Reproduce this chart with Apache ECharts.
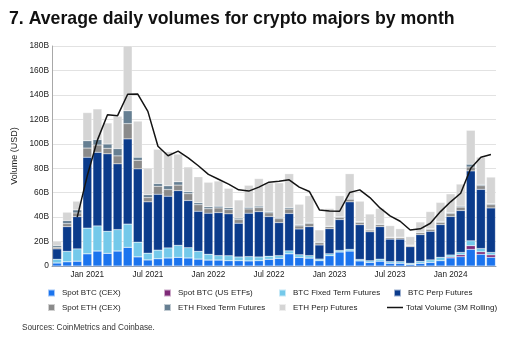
<!DOCTYPE html>
<html>
<head>
<meta charset="utf-8">
<script src="https://cdn.jsdelivr.net/npm/echarts@6/dist/echarts.min.js"></script>
<style>
  html, body { margin: 0; padding: 0; background: #fff; }
  #chart { width: 518px; height: 342px; }
</style>
</head>
<body>
<div id="chart"></div>
<script>
// Monthly categories, Oct 2020 – May 2024
const months = [
  'Oct 2020','Nov 2020','Dec 2020',
  'Jan 2021','Feb 2021','Mar 2021','Apr 2021','May 2021','Jun 2021','Jul 2021','Aug 2021','Sep 2021','Oct 2021','Nov 2021','Dec 2021',
  'Jan 2022','Feb 2022','Mar 2022','Apr 2022','May 2022','Jun 2022','Jul 2022','Aug 2022','Sep 2022','Oct 2022','Nov 2022','Dec 2022',
  'Jan 2023','Feb 2023','Mar 2023','Apr 2023','May 2023','Jun 2023','Jul 2023','Aug 2023','Sep 2023','Oct 2023','Nov 2023','Dec 2023',
  'Jan 2024','Feb 2024','Mar 2024','Apr 2024','May 2024'
];

// Average daily volume, USD billions
const spotBtcCex = [2.5,3.5,4, 10,12.3,10.4,12.3,15.3,7.5,5,6,6.6,7.1,6.6,5.7, 4.9,4.9,4.4,4.4,4.2,4.4,5.5,6.3,10,7,6.5,4.4, 8.5,11.5,12.3,4.2,3,4,2.3,2.3,1.2,2.2,3,4.4, 6.6,7.6,13.6,9.6,7.1];
const spotBtcEtf = [0,0,0, 0,0,0,0,0,0,0,0,0,0,0,0, 0,0,0,0,0,0,0,0,0,0,0,0, 0,0,0,0,0,0,0,0,0,0,0,0, 0.8,1.6,3,2,2];
const btcFixed   = [3,8.5,10, 21,20.5,18,17.5,19,12,5.5,7,8.2,9.8,8.4,6.3, 4.7,3.6,4,3,3.5,3,2.5,2.2,2.4,2.2,2,1.3, 1.5,1.2,1.3,1.2,1.3,1.6,1.3,1.3,1,1.6,2,2.7, 1.6,1.9,4,2.7,2];
const btcPerp    = [8.5,20.2,26.4, 58,60.2,63.4,53.8,69.7,60,42,45.7,42.3,44.8,38.6,32.8, 33.6,35.2,34.3,27.6,35.5,37.1,32.5,27,30.6,21.1,23.7,11.5, 20.5,25.3,38.9,28.4,23.7,26.6,18.4,18.4,13.6,21.9,23.4,26.8, 31.5,34.3,57.2,48.4,36.4];
const spotEthCex = [1.2,2.5,3, 7.5,6,4.5,6.5,12.5,7,3.5,6.5,5.5,4.5,5.6,5.4, 3.7,3.8,3.5,3,3.5,3.3,3,3.2,3.6,2.5,2.6,1.8, 1.6,1.8,2.2,1.8,1.4,1.6,1.2,1.2,1,1.5,1.6,1.8, 2.4,2.8,3.2,3,2.7];
const ethFixed   = [1.5,2.5,2.5, 6,4.5,3.5,6,10.5,2.5,2.3,2.3,3,2.7,1.6,1.6, 1.6,1.4,1.5,1.2,1.3,1.2,1,1,1.2,0.8,0.8,0.6, 0.5,0.6,0.7,0.6,0.5,0.5,0.4,0.4,0.3,0.5,0.5,0.6, 0.7,0.8,2.3,1,0.8];
const ethPerp    = [3.3,6.8,7.1, 23,25,17.2,26.4,53,29.5,21.7,28,27.9,22.6,20.2,21.2, 20,20.6,15.8,14.8,18,22.5,23.5,28.3,27.7,16.9,21.9,9.9, 14.4,17.1,20.1,16.8,12.6,12.7,9.4,6.9,6.9,8.3,14,15.7, 15.4,18,27.7,22.3,21.7];
const totalRolling3m = [null,null,40, 74,103,123.8,123,140.5,140.7,126.5,98,90.2,94,88.5,82, 75,71,67,62.3,61.3,64.5,68.6,69.4,70.5,64.5,61,45.9, 45,44.8,60.1,62.3,56,47.5,41,36.6,29.5,30.4,35,44.5, 52.5,59.5,80,89,91.3];

// Y-axis ticks (billions)
const yTicks = [0,20,40,60,80,100,120,140,160,180];

const FONT = "'Liberation Sans', Arial, sans-serif";
const colors = {
  spotBtcCex: '#1b74ee',
  spotBtcEtf: '#7f2a78',
  btcFixed:   '#74c9ea',
  btcPerp:    '#0b3b8b',
  spotEthCex: '#8b8b8b',
  ethFixed:   '#667f92',
  ethPerp:    '#d5d5d5',
  line:       '#141414'
};

function barSeries(name, data, color) {
  return {
    name, type: 'bar', stack: 'vol', data,
    barCategoryGap: '12%',
    itemStyle: { color, borderColor: 'rgba(255,255,255,0.6)', borderWidth: 0.4 },
    emphasis: { disabled: true }
  };
}

const legendText = { fontFamily: FONT, fontSize: 8, color: '#222', lineHeight: 10, padding: [0,0,0,2] };
function legendCol(left, names) {
  return {
    orient: 'vertical', left, top: 283,
    itemWidth: 7, itemHeight: 7, itemGap: 4.5, icon: 'rect',
    textStyle: legendText, selectedMode: false, data: names
  };
}

const chart = echarts.init(document.getElementById('chart'), null, { renderer: 'canvas' });
chart.setOption({
  animation: false,
  backgroundColor: '#fff',
  title: {
    text: '7. Average daily volumes for crypto majors by month',
    left: 4, top: 5,
    textStyle: { fontFamily: FONT, fontSize: 17.7, fontWeight: 'bold', color: '#111' }
  },
  grid: { left: 52, right: 22, top: 46, bottom: 76 },
  legend: [
    legendCol(42, ['Spot BTC (CEX)', 'Spot ETH (CEX)']),
    legendCol(158, ['Spot BTC (US ETFs)', 'ETH Fixed Term Futures']),
    legendCol(273, ['BTC Fixed Term Futures', 'ETH Perp Futures']),
    legendCol(388, ['BTC Perp Futures']),
    {
      orient: 'vertical', left: 382, top: 297.5,
      itemWidth: 16, itemHeight: 1.5, icon: 'rect',
      textStyle: Object.assign({}, legendText, { padding: [0,0,0,-2] }),
      selectedMode: false, data: ['Total Volume (3M Rolling)']
    }
  ],
  xAxis: {
    type: 'category', data: months,
    axisLine: { lineStyle: { color: '#8e9db3', width: 1 } },
    axisTick: { show: false },
    axisLabel: {
      interval: (i, v) => v.startsWith('Jan') || v.startsWith('Jul'),
      fontFamily: FONT, fontSize: 8.2, color: '#222', margin: 5
    }
  },
  yAxis: {
    type: 'value', min: yTicks[0], max: yTicks[yTicks.length - 1], interval: 20,
    name: 'Volume (USD)', nameLocation: 'middle', nameGap: 27, nameRotate: 90,
    nameTextStyle: { fontFamily: FONT, fontSize: 9, color: '#222' },
    axisLine: { show: true, lineStyle: { color: '#a8a8a8' } },
    axisTick: { show: false },
    splitLine: { lineStyle: { color: '#e2e2e2', width: 1 } },
    axisLabel: {
      fontFamily: FONT, fontSize: 8.4, color: '#222', margin: 3,
      formatter: v => (v === 0 ? '0' : v + 'B')
    }
  },
  series: [
    barSeries('Spot BTC (CEX)', spotBtcCex, colors.spotBtcCex),
    barSeries('Spot BTC (US ETFs)', spotBtcEtf, colors.spotBtcEtf),
    barSeries('BTC Fixed Term Futures', btcFixed, colors.btcFixed),
    barSeries('BTC Perp Futures', btcPerp, colors.btcPerp),
    barSeries('Spot ETH (CEX)', spotEthCex, colors.spotEthCex),
    barSeries('ETH Fixed Term Futures', ethFixed, colors.ethFixed),
    barSeries('ETH Perp Futures', ethPerp, colors.ethPerp),
    {
      name: 'Total Volume (3M Rolling)', type: 'line', data: totalRolling3m,
      symbol: 'none', connectNulls: false, z: 5,
      lineStyle: { color: colors.line, width: 1.5 },
      itemStyle: { color: colors.line },
      emphasis: { disabled: true }
    }
  ],
  graphic: [{
    type: 'text', left: 22, top: 323.5,
    style: { text: 'Sources: CoinMetrics and Coinbase.', font: "8.2px 'Liberation Sans', Arial, sans-serif", fill: '#333' }
  }]
});
</script>
</body>
</html>
